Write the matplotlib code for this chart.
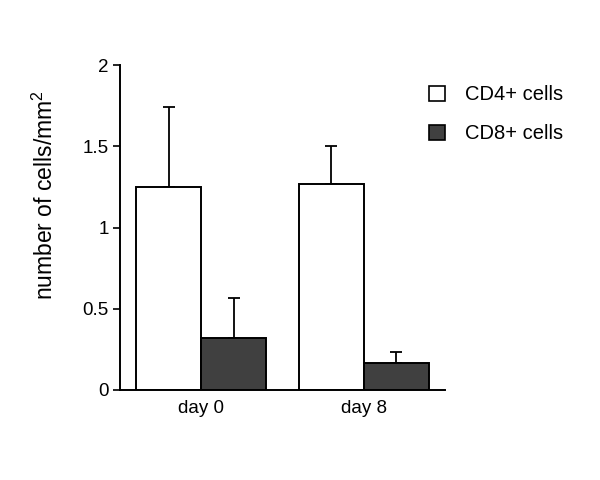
import matplotlib
matplotlib.use("Agg")
import matplotlib.pyplot as plt
from matplotlib.patches import Patch
import numpy as np

plt.rcParams['font.family'] = ['Liberation Sans', 'DejaVu Sans']
plt.rcParams['mathtext.fontset'] = 'custom'
plt.rcParams['mathtext.rm'] = 'Liberation Sans'

days = ["day 0", "day 8"]
cd4_mean = [1.25, 1.265]
cd4_err = [0.49, 0.235]
cd8_mean = [0.32, 0.165]
cd8_err = [0.245, 0.07]
series_names = ["CD4+ cells", "CD8+ cells"]

fig = plt.figure(figsize=(6, 4.8), dpi=100)
ax = fig.add_axes([0.2, 0.1875, 0.542, 0.677])

x = np.arange(len(days))
w = 0.4
ax.errorbar(x - w/2, cd4_mean, yerr=[np.zeros(2), cd4_err], fmt='none',
            ecolor='black', elinewidth=1.3, capsize=4, capthick=1.3, zorder=1)
ax.errorbar(x + w/2, cd8_mean, yerr=[np.zeros(2), cd8_err], fmt='none',
            ecolor='black', elinewidth=1.3, capsize=4, capthick=1.3, zorder=1)
ax.bar(x - w/2, cd4_mean, w, color='white', edgecolor='black', linewidth=1.4, zorder=2)
ax.bar(x + w/2, cd8_mean, w, color='#404040', edgecolor='black', linewidth=1.4, zorder=2)

ax.set_xlim(-0.5, 1.5)
ax.set_ylim(0, 2)
ax.set_xticks(x)
ax.set_xticklabels(days, fontsize=13.5)
ax.tick_params(axis='x', length=0, pad=7)
ax.set_yticks([0, 0.5, 1, 1.5, 2])
ax.set_yticklabels(["0", "0.5", "1", "1.5", "2"], fontsize=13.5)
ax.tick_params(axis='y', length=5, width=1.2, direction='out', pad=3)
for s in ['top', 'right']:
    ax.spines[s].set_visible(False)
for s in ['left', 'bottom']:
    ax.spines[s].set_linewidth(1.4)

ax.set_ylabel("number of cells/mm$^2$", fontsize=16.5)
ax.yaxis.set_label_coords(-0.19, 0.6)

handles = [Patch(facecolor='white', edgecolor='black', linewidth=1.2),
           Patch(facecolor='#404040', edgecolor='black', linewidth=1.2)]
fig.legend(handles, series_names, loc='upper left', bbox_to_anchor=(0.685, 0.86),
           frameon=False, fontsize=14.5, handlelength=0.8, handleheight=0.8,
           labelspacing=1.0, handletextpad=1.0)

fig.savefig("out.png", dpi=100)
